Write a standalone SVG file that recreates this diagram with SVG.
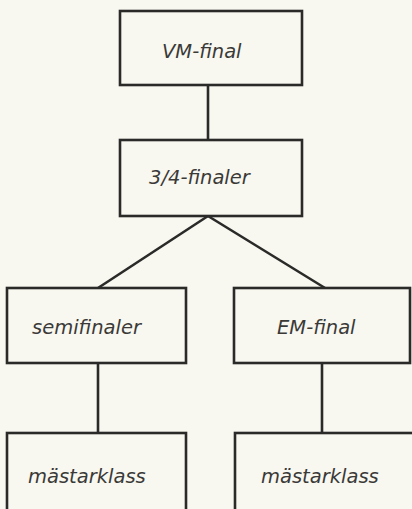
<svg xmlns="http://www.w3.org/2000/svg" width="412" height="509" viewBox="0 0 412 509">
<style>
.box{fill:none;stroke:#2a2a28;stroke-width:2.6}
.ln{fill:none;stroke:#2a2a28;stroke-width:2.6}
.t{font-family:"DejaVu Sans",sans-serif;font-style:italic;font-size:19.5px;fill:#3a3a38}
</style>
<rect width="412" height="509" fill="#f8f7f0"/>
<g id="connectors">
<line class="ln" x1="208" y1="85" x2="208" y2="140"/>
<line class="ln" x1="208" y1="216" x2="98" y2="288"/>
<line class="ln" x1="208" y1="216" x2="325" y2="288"/>
<line class="ln" x1="98" y1="363" x2="98" y2="433"/>
<line class="ln" x1="322" y1="363" x2="322" y2="433"/>
</g>
<g id="vm-final">
<rect class="box" x="120" y="11" width="182" height="74"/>
<text class="t" x="162" y="58">VM-final</text>
</g>
<g id="kvartsfinaler">
<rect class="box" x="120" y="140" width="182" height="76"/>
<text class="t" x="149" y="184">3/4-finaler</text>
</g>
<g id="semifinaler">
<rect class="box" x="7" y="288" width="179" height="75"/>
<text class="t" x="32" y="334">semifinaler</text>
</g>
<g id="em-final">
<rect class="box" x="234" y="288" width="176" height="75"/>
<text class="t" x="277" y="334">EM-final</text>
</g>
<g id="mastarklass-1">
<rect class="box" x="7" y="433" width="179" height="90"/>
<text class="t" x="28" y="483">mästarklass</text>
</g>
<g id="mastarklass-2">
<rect class="box" x="235" y="433" width="190" height="90"/>
<text class="t" x="261" y="483">mästarklass</text>
</g>
</svg>
